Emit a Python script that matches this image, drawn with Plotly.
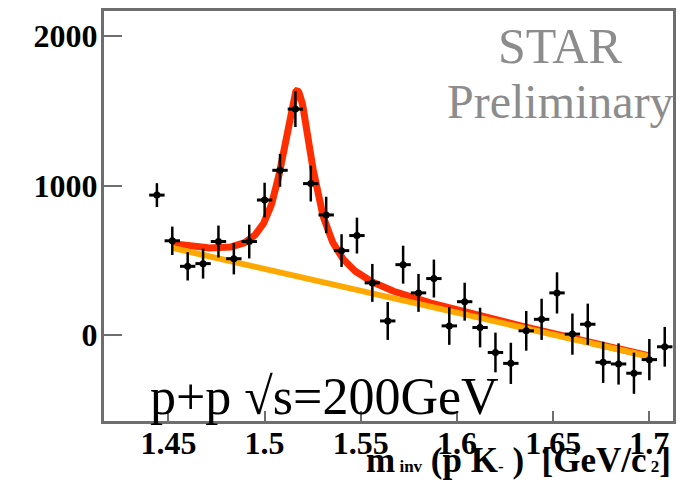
import numpy as np
import plotly.graph_objects as go

# Invariant mass of p K- pairs, bin centres [GeV/c^2]
mass = [1.444, 1.452, 1.460, 1.468, 1.476, 1.484, 1.492, 1.500, 1.508, 1.516,
        1.524, 1.532, 1.540, 1.548, 1.556, 1.564, 1.572, 1.580, 1.588, 1.596,
        1.604, 1.612, 1.620, 1.628, 1.636, 1.644, 1.652, 1.660, 1.668, 1.676,
        1.684, 1.692, 1.700, 1.708]
# Background-subtracted counts per bin
counts = [936, 630, 459, 477, 625, 510, 625, 903, 1102, 1512,
          1013, 803, 564, 665, 348, 93, 470, 281, 377, 60,
          222, 49, -118, -191, 27, 104, 281, 5, 71, -184,
          -195, -257, -166, -80]
# Statistical errors
errors = [80, 95, 95, 100, 107, 105, 113, 116, 110, 120,
          120, 122, 110, 120, 127, 127, 127, 127, 127, 127,
          127, 133, 133, 138, 133, 138, 138, 138, 138, 138,
          138, 138, 138, 133]
half_bin = 0.004

# Fit: Breit-Wigner peak on a linear residual background
bw_mass = 1.517
bw_width = 0.020
bw_height = 1243
bg_at_145 = 588
bg_slope = -2932
fit_range = (1.452, 1.700)

m_fit = np.linspace(fit_range[0], fit_range[1], 600)
bg_fit = bg_at_145 + bg_slope * (m_fit - 1.45)
hw2 = (bw_width / 2) ** 2
sig_fit = bw_height * hw2 / ((m_fit - bw_mass) ** 2 + hw2)
total_fit = bg_fit + sig_fit

x_ticks = [1.45, 1.5, 1.55, 1.6, 1.65, 1.7]
x_tick_text = ["1.45", "1.5", "1.55", "1.6", "1.65", "1.7"]
y_ticks = [0, 1000, 2000]
y_tick_text = ["0", "1000", "2000"]

SERIF = "Liberation Serif"
FRAME = "#6e6e6e"

fig = go.Figure()
fig.add_trace(go.Scatter(x=m_fit, y=total_fit, mode="lines",
                         line=dict(color="#ff2e00", width=7),
                         hoverinfo="skip", showlegend=False))
fig.add_trace(go.Scatter(x=m_fit, y=bg_fit, mode="lines",
                         line=dict(color="#ffa800", width=6),
                         hoverinfo="skip", showlegend=False))
fig.add_trace(go.Scatter(
    x=mass, y=counts, mode="markers",
    marker=dict(color="black", size=7, symbol="circle"),
    error_y=dict(type="data", array=errors, color="black", thickness=2.5, width=0),
    error_x=dict(type="constant", value=half_bin, color="black", thickness=3, width=0),
    showlegend=False))

fig.update_layout(
    width=687, height=482,
    margin=dict(l=104, r=14, t=8, b=61, pad=0),
    paper_bgcolor="white", plot_bgcolor="white",
    xaxis=dict(range=[1.4165, 1.7123], tickvals=x_ticks, ticktext=x_tick_text,
               ticks="inside", ticklen=10, tickwidth=2, tickcolor=FRAME,
               showline=True, linecolor=FRAME, linewidth=3, mirror=True,
               showgrid=False, zeroline=False, ticklabelstandoff=-8,
               tickfont=dict(family=SERIF, size=32, color="black", weight="bold")),
    yaxis=dict(range=[-577, 2169], tickvals=y_ticks, ticktext=y_tick_text,
               ticks="inside", ticklen=18, tickwidth=2, tickcolor=FRAME,
               showline=True, linecolor=FRAME, linewidth=3, mirror=True,
               showgrid=False, zeroline=False, ticklabelstandoff=-3,
               tickfont=dict(family=SERIF, size=32, color="black", weight="bold")),
)

def px_x(px):
    return (px - 103.5) / 569.5

def px_y(py):
    return (420.7 - py) / 412.7

small = "<span style='font-size:17px'>{}</span>"
x_title = ("m" + small.format(" inv") + " (p K" + small.format("-")
           + " )  [GeV/c" + small.format(" 2") + "]")

fig.add_annotation(text="STAR", x=px_x(560), y=px_y(43), xref="paper", yref="paper",
                   xanchor="center", yanchor="middle", showarrow=False,
                   font=dict(family=SERIF, size=50, color="#8c8c8c"))
fig.add_annotation(text="Preliminary", x=px_x(560), y=px_y(99), xref="paper", yref="paper",
                   xanchor="center", yanchor="middle", showarrow=False,
                   font=dict(family=SERIF, size=48, color="#8c8c8c"))
fig.add_annotation(text="p+p √s=200GeV", x=px_x(324), y=px_y(396), xref="paper", yref="paper",
                   xanchor="center", yanchor="middle", showarrow=False,
                   font=dict(family=SERIF, size=52, color="black"))
fig.add_annotation(text=x_title,
                   x=px_x(673), y=px_y(460), xref="paper", yref="paper",
                   xanchor="right", yanchor="middle", showarrow=False,
                   font=dict(family=SERIF, size=35, color="black", weight="bold"))

fig.write_html("out.html")
